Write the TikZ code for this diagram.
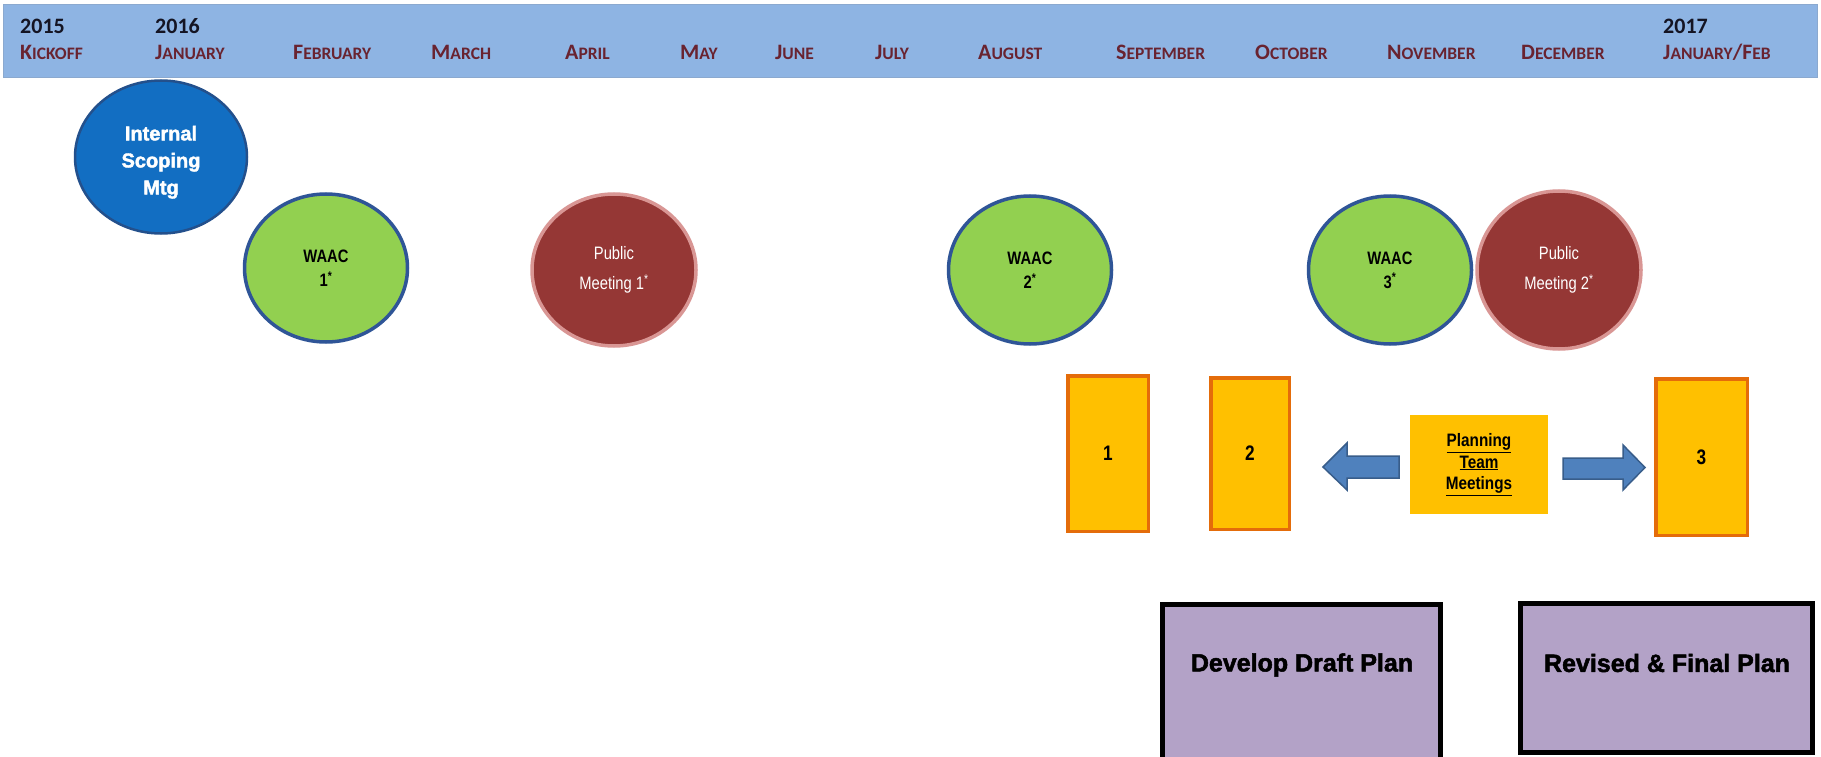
\documentclass[tikz,border=0pt]{standalone}
\usepackage{fontspec}
\usetikzlibrary{shapes.geometric}
\setmainfont{Liberation Sans}
\newfontfamily\calfont{Carlito}
\newfontfamily\narrowfont{Liberation Sans}[FakeStretch=0.82]
\newfontfamily\semifont{Liberation Sans}[FakeStretch=0.85]
\newfontfamily\heavyfont{Liberation Sans}[BoldFeatures={FakeBold=2}]
\definecolor{bandblue}{RGB}{142,180,227}
\definecolor{monthcol}{RGB}{105,35,48}
\definecolor{yearcol}{RGB}{20,20,35}
\definecolor{intblue}{RGB}{18,110,194}
\definecolor{intborder}{RGB}{35,80,140}
\definecolor{waacgreen}{RGB}{146,208,80}
\definecolor{waacborder}{RGB}{47,85,151}
\definecolor{pubred}{RGB}{149,55,53}
\definecolor{pubborder}{RGB}{217,150,148}
\definecolor{ybox}{RGB}{255,192,0}
\definecolor{yborder}{RGB}{228,108,10}
\definecolor{arrfill}{RGB}{79,129,189}
\definecolor{arrborder}{RGB}{56,93,138}
\definecolor{purp}{RGB}{179,162,199}
\newcommand\msc[2]{#1{\fontsize{17.5}{17.5}\selectfont #2}}
\newcommand\mast{\textsuperscript{*}}
\begin{document}
\begin{tikzpicture}[x=1pt,y=-1pt,
  yearlbl/.style={anchor=base west,inner sep=0pt,text=yearcol,font=\calfont\bfseries\fontsize{22}{22}\selectfont},
  monthlbl/.style={anchor=base west,inner sep=0pt,text=monthcol,font=\calfont\bfseries\fontsize{22}{22}\selectfont},
  intmtg/.style={ellipse,inner sep=0pt,fill=intblue,draw=intborder,line width=2.5pt,text=white,align=center,
    font=\heavyfont\bfseries\fontsize{20}{27}\selectfont},
  waac/.style={ellipse,inner sep=0pt,fill=waacgreen,draw=waacborder,line width=3.5pt,text=black,align=center,
    minimum width=163pt,minimum height=148pt,font=\narrowfont\bfseries\fontsize{18}{24}\selectfont},
  pubmtg/.style={ellipse,inner sep=0pt,fill=pubred,draw=pubborder,line width=3.5pt,text=white,align=center,
    minimum width=164pt,minimum height=152pt,font=\narrowfont\fontsize{18}{30}\selectfont},
  ptm/.style={rectangle,inner sep=0pt,fill=ybox,draw=yborder,line width=3.5pt,font=\narrowfont\bfseries\fontsize{21}{21}\selectfont},
  ptbox/.style={rectangle,inner sep=0pt,fill=ybox,align=center,font=\semifont\bfseries\fontsize{18}{21.5}\selectfont},
  blockarrow/.style={fill=arrfill,draw=arrborder,line width=1.5pt,line join=miter},
  planbox/.style={rectangle,inner sep=0pt,fill=purp,draw=black,line width=5pt},
  plantext/.style={inner sep=0pt,font=\heavyfont\bfseries\fontsize{25}{25}\selectfont}
]
\useasboundingbox (0,0) rectangle (1821,757);
\clip (0,0) rectangle (1821,757);
\fill[white] (0,0) rectangle (1821,757);
% header band
\node[rectangle,fill=bandblue,draw=bandblue!80!gray,line width=0.8pt,minimum width=1814pt,minimum height=73pt,anchor=north west,inner sep=0pt] (band) at (3,4) {};
% years
\node[yearlbl] (y2015) at (20,34) {2015};
\node[yearlbl] (y2016) at (155,34) {2016};
\node[yearlbl] (y2017) at (1663,34) {2017};
% months
\node[monthlbl] (mkick) at (20,60) {\msc{K}{ICKOFF}};
\node[monthlbl] (mjan) at (155,60) {\msc{J}{ANUARY}};
\node[monthlbl] (mfeb) at (293,60) {\msc{F}{EBRUARY}};
\node[monthlbl] (mmar) at (431,60) {\msc{M}{ARCH}};
\node[monthlbl] (mapr) at (565,60) {\msc{A}{PRIL}};
\node[monthlbl] (mmay) at (680,60) {\msc{M}{AY}};
\node[monthlbl] (mjun) at (775,60) {\msc{J}{UNE}};
\node[monthlbl] (mjul) at (875,60) {\msc{J}{ULY}};
\node[monthlbl] (maug) at (978,60) {\msc{A}{UGUST}};
\node[monthlbl] (msep) at (1116,60) {\msc{S}{EPTEMBER}};
\node[monthlbl] (moct) at (1255,60) {\msc{O}{CTOBER}};
\node[monthlbl] (mnov) at (1387,60) {\msc{N}{OVEMBER}};
\node[monthlbl] (mdec) at (1521,60) {\msc{D}{ECEMBER}};
\node[monthlbl] (mjanfeb) at (1663,60) {\msc{J}{ANUARY}/\msc{F}{EB}};
% meetings
\node[intmtg,minimum width=172pt,minimum height=153pt] (ism) at (161,157) {\rule{0pt}{25pt}Internal\\Scoping\\Mtg};
\node[waac] (w1) at (326,268) {WAAC\\1\mast};
\node[pubmtg] (p1) at (614,270) {Public\\Meeting 1\mast};
\node[waac] (w2) at (1030,270) {WAAC\\2\mast};
\node[waac] (w3) at (1390,270) {WAAC\\3\mast};
\node[pubmtg,minimum height=158pt] (p2) at (1559,270) {Public\\Meeting 2\mast};
% planning team meetings
\node[ptm,minimum width=80.5pt,minimum height=155.5pt] (r1) at (1108,453.5) {1};
\node[ptm,minimum width=78.5pt,minimum height=151.5pt] (r2) at (1250,453.5) {2};
\node[ptm,minimum width=91.5pt,minimum height=156.5pt] (r3) at (1701.5,457) {3};
\node[ptbox,minimum width=138pt,minimum height=99pt] (ptb) at (1479,464.5) {\underline{Planning}\\\underline{Team}\\\underline{Meetings}};
% block arrows
\draw[blockarrow] (1323,467) -- (1347,443) -- (1347,456) -- (1399,456) -- (1399,478) -- (1347,478) -- (1347,490) -- cycle;
\draw[blockarrow] (1645,467.5) -- (1623,445) -- (1623,458) -- (1563,458) -- (1563,479) -- (1623,479) -- (1623,490) -- cycle;
% plan boxes
\node[planbox,minimum width=278pt,minimum height=250pt,anchor=north] (dev) at (1301.5,602) {};
\node[plantext] (devt) at (1302,665) {Develop Draft Plan};
\node[planbox,minimum width=292pt,minimum height=149pt] (rev) at (1666.5,678) {};
\node[plantext] (revt) at (1667,663) {Revised \& Final Plan};
\end{tikzpicture}
\end{document}
